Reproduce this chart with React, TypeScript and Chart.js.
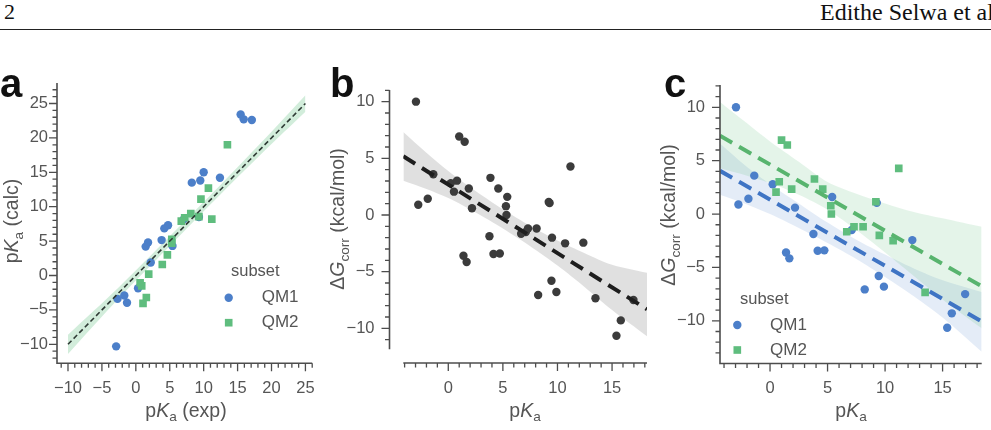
import React, { useEffect, useRef } from 'react';
import { Chart, registerables } from 'chart.js';

Chart.register(...registerables);

// ---------------- data ----------------
const SUBSETS = ['QM1', 'QM2'];

// Panel a: pKa (exp) vs pKa (calc)
const A_QM1_EXP = [15.45, 15.9, 17.1, 10.0, 9.5, 8.25, 12.4, 4.75, 4.2, 3.8, 1.8, 1.45, 5.4, 2.2, 0.33, -1.7, -2.7, -1.3, -2.9, 7.1, 9.3];
const A_QM1_CALC = [23.4, 22.7, 22.6, 15.0, 13.8, 13.5, 14.2, 7.3, 6.85, 5.15, 4.8, 4.2, 4.3, 1.9, -1.86, -2.9, -3.4, -3.95, -10.3, 8.2, 8.5];
const A_QM2_EXP = [13.5, 10.7, 9.6, 8.1, 9.3, 11.2, 7.2, 6.7, 5.3, 5.3, 4.65, 3.9, 1.9, 0.63, 0.87, 1.55, 1.06];
const A_QM2_CALC = [19.0, 12.7, 11.1, 9.0, 8.55, 8.2, 8.4, 7.9, 5.25, 4.7, 3.0, 1.6, 0.2, -1.05, -1.5, -3.2, -4.05];
const A_FIT_X = [-10, 25];
const A_FIT_Y = [-10, 25];
const A_BAND_X = [-10, -2.5, 5, 12.5, 20, 25];
const A_BAND_HI = [-8.6, -1.7, 5.7, 13.2, 20.9, 26.2];
const A_BAND_LO = [-11.4, -3.3, 4.3, 11.8, 19.1, 23.8];
const A_X_TICKS = [-10, -5, 0, 5, 10, 15, 20, 25];
const A_Y_TICKS = [-10, -5, 0, 5, 10, 15, 20, 25];

// Panels b & c: pKa vs ΔG_corr
const QM1_PKA = [-2.96, -2.75, -1.88, -1.37, 0.23, 2.17, 3.77, 4.14, 4.72, 1.39, 1.68, 5.4, 7.1, 9.28, 9.45, 12.37, 8.23, 9.9, 16.96, 15.8, 15.4];
const QM1_DG = [10.0, 0.9, 1.43, 3.6, 2.8, 0.6, -1.87, -3.44, -3.4, -3.6, -4.15, 1.6, -1.5, 1.05, -5.8, -2.44, -7.06, -6.8, -7.5, -9.3, -10.65];
const QM2_PKA = [1.0, 1.5, 0.8, 0.52, 1.88, 3.86, 4.58, 5.28, 5.33, 6.67, 7.3, 8.09, 9.2, 9.5, 10.7, 11.19, 13.48];
const QM2_DG = [6.93, 6.47, 3.03, 2.06, 2.34, 3.28, 2.34, 0.78, 0.0, -1.66, -1.19, -1.19, 1.15, -2.0, -2.5, 4.28, -7.34];

// Panel b fit (all)
const B_FIT_X = [-4.12, 18.2];
const B_FIT_Y = [5.18, -8.32];
const B_BAND_X = [-4.12, -2, 0, 2.5, 5, 7.5, 10, 12.5, 15, 18.2];
const B_BAND_HI = [7.33, 5.5, 3.89, 2.12, 0.51, -0.95, -2.26, -3.37, -4.39, -5.1];
const B_BAND_LO = [3.03, 2.3, 1.49, 0.22, -1.19, -2.75, -4.46, -6.37, -8.39, -10.7];

// Panel c fits per subset
const C_FIT_X = [-4.35, 18.4];
const C_QM1_FIT_Y = [4.05, -10.06];
const C_QM2_FIT_Y = [7.34, -6.77];
const C_BAND_X = [-4.35, -2, 0, 2.5, 5, 7.5, 10, 12.5, 15, 18.4];
const C_QM1_HI = [6.6, 4.4, 2.8, 1.0, -0.8, -2.4, -3.8, -5.1, -6.2, -7.3];
const C_QM1_LO = [1.8, 0.9, 0.0, -1.3, -2.7, -4.2, -5.9, -7.7, -9.7, -12.9];
const C_QM2_HI = [10.5, 8.5, 6.8, 4.9, 3.0, 1.9, 1.0, 0.2, -0.4, -1.2];
const C_QM2_LO = [4.3, 3.6, 2.9, 1.8, 0.4, -1.5, -3.6, -5.8, -8.0, -10.7];

const BC_X_TICKS = [0, 5, 10, 15];
const BC_Y_TICKS = [-10, -5, 0, 5, 10];

// ---------------- styles ----------------
const FONT = '"Liberation Sans", Arial, Helvetica, sans-serif';
const SERIF = '"Liberation Serif", "Times New Roman", serif';
const TXT = '#555555';
const AX = '#4d4d4d';
const BLUE = '#4c7fc9';
const GREEN = '#5fbd7e';
const DARK = '#3b3b3b';

type Seg = { t: string; i?: boolean; sub?: boolean };

const pts = (xs: number[], ys: number[]) => xs.map((x, i) => ({ x, y: ys[i] }));

function scatterDs(label: string, xs: number[], ys: number[], color: string, style: string, order: number) {
  return {
    type: 'scatter', label, data: pts(xs, ys), pointStyle: style,
    pointRadius: style === 'rect' ? 5.4 : 4.2, pointHoverRadius: 0,
    backgroundColor: color, borderWidth: 0, borderColor: 'rgba(0,0,0,0)', order,
  };
}
function lineDs(xs: number[], ys: number[], color: string, width: number, dash: number[], order: number) {
  return {
    type: 'line', data: pts(xs, ys), borderColor: color, borderWidth: width, borderDash: dash,
    borderCapStyle: 'butt', pointRadius: 0, fill: false, tension: 0, order,
  };
}
function bandDs(xs: number[], hi: number[], lo: number[], color: string, order: number) {
  return [
    { type: 'line', data: pts(xs, hi), borderColor: 'rgba(0,0,0,0)', borderWidth: 1, pointRadius: 0, fill: '+1', backgroundColor: color, tension: 0.3, order },
    { type: 'line', data: pts(xs, lo), borderColor: 'rgba(0,0,0,0)', borderWidth: 1, pointRadius: 0, fill: false, tension: 0.3, order },
  ];
}

const fmt = (v: number) => (v < 0 ? '\u2212' + Math.abs(v) : String(v));

function drawRich(ctx: CanvasRenderingContext2D, segs: Seg[], x: number, y: number, size: number, rotate: boolean) {
  ctx.save();
  const fontOf = (s: Seg) => `${s.i ? 'italic ' : ''}${s.sub ? size * 0.7 : size}px ${FONT}`;
  let total = 0;
  for (const s of segs) { ctx.font = fontOf(s); total += ctx.measureText(s.t).width; }
  ctx.translate(x, y);
  if (rotate) ctx.rotate(-Math.PI / 2);
  ctx.fillStyle = TXT;
  ctx.textBaseline = 'middle';
  ctx.textAlign = 'left';
  let cx = -total / 2;
  for (const s of segs) {
    ctx.font = fontOf(s);
    ctx.fillText(s.t, cx, s.sub ? size * 0.3 : 0);
    cx += ctx.measureText(s.t).width;
  }
  ctx.restore();
}

function drawMarker(ctx: CanvasRenderingContext2D, style: string, x: number, y: number, color: string) {
  ctx.fillStyle = color;
  ctx.beginPath();
  if (style === 'rect') { const h = 5.4 * Math.SQRT1_2; ctx.rect(x - h, y - h, 2 * h, 2 * h); }
  else ctx.arc(x, y, 4.2, 0, Math.PI * 2);
  ctx.fill();
}

interface Legend { titleX: number; titleY: number; markerX: number; labelX: number; rows: { y: number; color: string; style: string; label: string }[] }
interface Spec {
  key: string; left: number; top: number; width: number; height: number;
  area: { left: number; right: number; top: number; bottom: number };
  xMin: number; xMax: number; yMin: number; yMax: number;
  xMajor: number[]; yMajor: number[]; xMinor: [number, number]; yMinor: [number, number];
  xOff: number; yOff: number; xPad: number; yPad: number;
  xTitle: Seg[]; yTitle: Seg[]; xTitlePos: [number, number]; yTitlePos: [number, number];
  letter: string; letterPos: [number, number];
  legend?: Legend;
  datasets: any[];
}

function makePlugin(spec: Spec) {
  return {
    id: 'panel_' + spec.key,
    afterDraw(chart: any) {
      const ctx: CanvasRenderingContext2D = chart.ctx;
      const ca = chart.chartArea;
      const xs = chart.scales.x, ys = chart.scales.y;
      const ox = spec.left, oy = spec.top;
      const sx = ca.left - spec.yOff;
      const sy = ca.bottom + spec.xOff;
      ctx.save();
      // spines
      ctx.strokeStyle = AX;
      ctx.lineWidth = 1.6;
      ctx.beginPath();
      ctx.moveTo(sx, ca.top);
      ctx.lineTo(sx, spec.yOff === 0 ? sy + 0.8 : ca.bottom);
      ctx.moveTo(spec.xOff === 0 ? sx - 0.8 : ca.left, sy);
      ctx.lineTo(ca.right, sy);
      ctx.stroke();
      // ticks
      ctx.lineWidth = 1.3;
      ctx.beginPath();
      for (let v = spec.xMinor[0]; v <= spec.xMinor[1]; v++) {
        const p = xs.getPixelForValue(v);
        const len = spec.xMajor.includes(v) ? 8 : 4.5;
        ctx.moveTo(p, sy); ctx.lineTo(p, sy + len);
      }
      for (let v = spec.yMinor[0]; v <= spec.yMinor[1]; v++) {
        const p = ys.getPixelForValue(v);
        const len = spec.yMajor.includes(v) ? 8 : 4.5;
        ctx.moveTo(sx, p); ctx.lineTo(sx - len, p);
      }
      ctx.stroke();
      // titles
      drawRich(ctx, spec.xTitle, spec.xTitlePos[0] - ox, spec.xTitlePos[1] - oy, 19.5, false);
      drawRich(ctx, spec.yTitle, spec.yTitlePos[0] - ox, spec.yTitlePos[1] - oy, 19.5, true);
      // panel letter
      ctx.fillStyle = '#111';
      ctx.font = `bold 40px ${FONT}`;
      ctx.textBaseline = 'alphabetic';
      ctx.textAlign = 'left';
      ctx.fillText(spec.letter, spec.letterPos[0] - ox, spec.letterPos[1] - oy);
      // legend
      const lg = spec.legend;
      if (lg) {
        ctx.fillStyle = TXT;
        ctx.font = `16.5px ${FONT}`;
        ctx.textBaseline = 'middle';
        ctx.fillText('subset', lg.titleX - ox, lg.titleY - oy);
        for (const r of lg.rows) {
          drawMarker(ctx, r.style, lg.markerX - ox, r.y - oy, r.color);
          ctx.fillStyle = TXT;
          ctx.font = `17px ${FONT}`;
          ctx.fillText(r.label, lg.labelX - ox, r.y - oy);
        }
      }
      ctx.restore();
    },
  };
}

function makeChart(canvas: HTMLCanvasElement, spec: Spec) {
  const tickFont = { family: FONT, size: 16.5 };
  // chart area in canvas coordinates
  const L = spec.area.left - spec.left;
  const R = spec.left + spec.width - spec.area.right;
  const T = spec.area.top - spec.top;
  const B = spec.top + spec.height - spec.area.bottom;
  return new Chart(canvas, {
    type: 'scatter',
    data: { datasets: spec.datasets },
    options: {
      animation: false,
      responsive: false,
      maintainAspectRatio: false,
      devicePixelRatio: 1,
      events: [],
      layout: { padding: { left: 0, right: R, top: T, bottom: 0 } },
      plugins: { legend: { display: false }, tooltip: { enabled: false } },
      scales: {
        x: {
          type: 'linear', min: spec.xMin, max: spec.xMax,
          afterFit: (s: any) => { s.height = B; },
          afterBuildTicks: (s: any) => { s.ticks = spec.xMajor.map((v) => ({ value: v })); },
          grid: { display: false, drawTicks: false },
          border: { display: false },
          ticks: { padding: spec.xPad, font: tickFont, color: TXT, autoSkip: false, maxRotation: 0, minRotation: 0, callback: (v: any) => fmt(Number(v)) },
        },
        y: {
          type: 'linear', min: spec.yMin, max: spec.yMax,
          afterFit: (s: any) => { s.width = L; },
          afterBuildTicks: (s: any) => { s.ticks = spec.yMajor.map((v) => ({ value: v })); },
          grid: { display: false, drawTicks: false },
          border: { display: false },
          ticks: { padding: spec.yPad, font: tickFont, color: TXT, autoSkip: false, callback: (v: any) => fmt(Number(v)) },
        },
      },
    } as any,
    plugins: [makePlugin(spec)],
  } as any);
}

const PKA_SEGS: Seg[] = [{ t: 'p' }, { t: 'K', i: true }, { t: 'a', sub: true }];
const DG_SEGS: Seg[] = [{ t: 'Δ' }, { t: 'G', i: true }, { t: 'corr', sub: true }, { t: ' (kcal/mol)' }];

const SPEC_A: Spec = {
  key: 'a', left: 0, top: 40, width: 330, height: 390,
  area: { left: 57, right: 315, top: 83, bottom: 363.3 },
  xMin: -11.62, xMax: 26.0, yMin: -12.76, yMax: 27.98,
  xMajor: A_X_TICKS, yMajor: A_Y_TICKS, xMinor: [-11, 26], yMinor: [-12, 27],
  xOff: 0, yOff: 0, xPad: 15, yPad: 9,
  xTitle: [...PKA_SEGS, { t: ' (exp)' }], yTitle: [...PKA_SEGS, { t: ' (calc)' }],
  xTitlePos: [186, 411.5], yTitlePos: [13, 221],
  letter: 'a', letterPos: [0, 97],
  legend: {
    titleX: 231, titleY: 271.7, markerX: 228.7, labelX: 261.7,
    rows: [
      { y: 297.7, color: BLUE, style: 'circle', label: SUBSETS[0] },
      { y: 322.7, color: GREEN, style: 'rect', label: SUBSETS[1] },
    ],
  },
  datasets: [
    lineDs(A_FIT_X, A_FIT_Y, '#2f3b35', 1.6, [5, 3], 1),
    scatterDs(SUBSETS[1], A_QM2_EXP, A_QM2_CALC, GREEN, 'rect', 4),
    scatterDs(SUBSETS[0], A_QM1_EXP, A_QM1_CALC, BLUE, 'circle', 5),
    ...bandDs(A_BAND_X, A_BAND_HI, A_BAND_LO, 'rgba(95,189,126,0.28)', 10),
  ],
};

const SPEC_B: Spec = {
  key: 'b', left: 330, top: 40, width: 330, height: 390,
  area: { left: 403.3, right: 647, top: 90, bottom: 349.3 },
  xMin: -4.12, xMax: 18.2, yMin: -11.85, yMax: 11.03,
  xMajor: BC_X_TICKS, yMajor: BC_Y_TICKS, xMinor: [-4, 18], yMinor: [-11, 11],
  xOff: 13.7, yOff: 13.8, xPad: 29.1, yPad: 28.8,
  xTitle: PKA_SEGS, yTitle: DG_SEGS,
  xTitlePos: [525, 411.5], yTitlePos: [339, 219],
  letter: 'b', letterPos: [330, 97],
  datasets: [
    lineDs(B_FIT_X, B_FIT_Y, '#1e1e1e', 4, [14, 8], 1),
    scatterDs('all', [...QM1_PKA, ...QM2_PKA], [...QM1_DG, ...QM2_DG], DARK, 'circle', 5),
    ...bandDs(B_BAND_X, B_BAND_HI, B_BAND_LO, 'rgba(0,0,0,0.12)', 10),
  ],
};

const SPEC_C: Spec = {
  key: 'c', left: 660, top: 40, width: 331, height: 390,
  area: { left: 720, right: 981.7, top: 85, bottom: 363.5 },
  xMin: -4.35, xMax: 18.4, yMin: -14.0, yMax: 12.09,
  xMajor: BC_X_TICKS, yMajor: BC_Y_TICKS, xMinor: [-4, 18], yMinor: [-13, 12],
  xOff: 0, yOff: 0, xPad: 15, yPad: 15,
  xTitle: PKA_SEGS, yTitle: DG_SEGS,
  xTitlePos: [851, 411.5], yTitlePos: [670, 215],
  letter: 'c', letterPos: [664, 97],
  legend: {
    titleX: 740, titleY: 299.3, markerX: 737.3, labelX: 770,
    rows: [
      { y: 325, color: BLUE, style: 'circle', label: SUBSETS[0] },
      { y: 350, color: GREEN, style: 'rect', label: SUBSETS[1] },
    ],
  },
  datasets: [
    lineDs(C_FIT_X, C_QM2_FIT_Y, '#58b46e', 4, [14, 8], 1),
    lineDs(C_FIT_X, C_QM1_FIT_Y, '#3f74c4', 4, [14, 8], 2),
    scatterDs(SUBSETS[1], QM2_PKA, QM2_DG, GREEN, 'rect', 4),
    scatterDs(SUBSETS[0], QM1_PKA, QM1_DG, BLUE, 'circle', 5),
    ...bandDs(C_BAND_X, C_QM2_HI, C_QM2_LO, 'rgba(95,189,126,0.17)', 10),
    ...bandDs(C_BAND_X, C_QM1_HI, C_QM1_LO, 'rgba(76,127,201,0.15)', 11),
  ],
};

const SPECS = [SPEC_A, SPEC_B, SPEC_C];

export default function App() {
  const refs = useRef<(HTMLCanvasElement | null)[]>([]);
  useEffect(() => {
    const charts = SPECS.map((s, i) => makeChart(refs.current[i] as HTMLCanvasElement, s));
    return () => { charts.forEach((c) => c.destroy()); };
  }, []);
  return (
    <div style={{ position: 'absolute', left: 0, top: 0, width: 991, height: 430, overflow: 'hidden', background: '#fff' }}>
      <div style={{ position: 'absolute', left: 4, top: 0, font: `22px ${SERIF}`, color: '#111', lineHeight: '24px' }}>2</div>
      <div style={{ position: 'absolute', left: 820, top: 0, font: `24px ${SERIF}`, color: '#111', whiteSpace: 'nowrap', lineHeight: '24px' }}>Edithe Selwa et al.</div>
      <div style={{ position: 'absolute', left: 0, top: 29, width: 991, height: 0, borderTop: '1.5px solid #222' }} />
      {SPECS.map((s, i) => (
        <canvas
          key={s.key}
          ref={(el) => { refs.current[i] = el; }}
          width={s.width}
          height={s.height}
          style={{ position: 'absolute', left: s.left, top: s.top, width: s.width, height: s.height }}
        />
      ))}
    </div>
  );
}
